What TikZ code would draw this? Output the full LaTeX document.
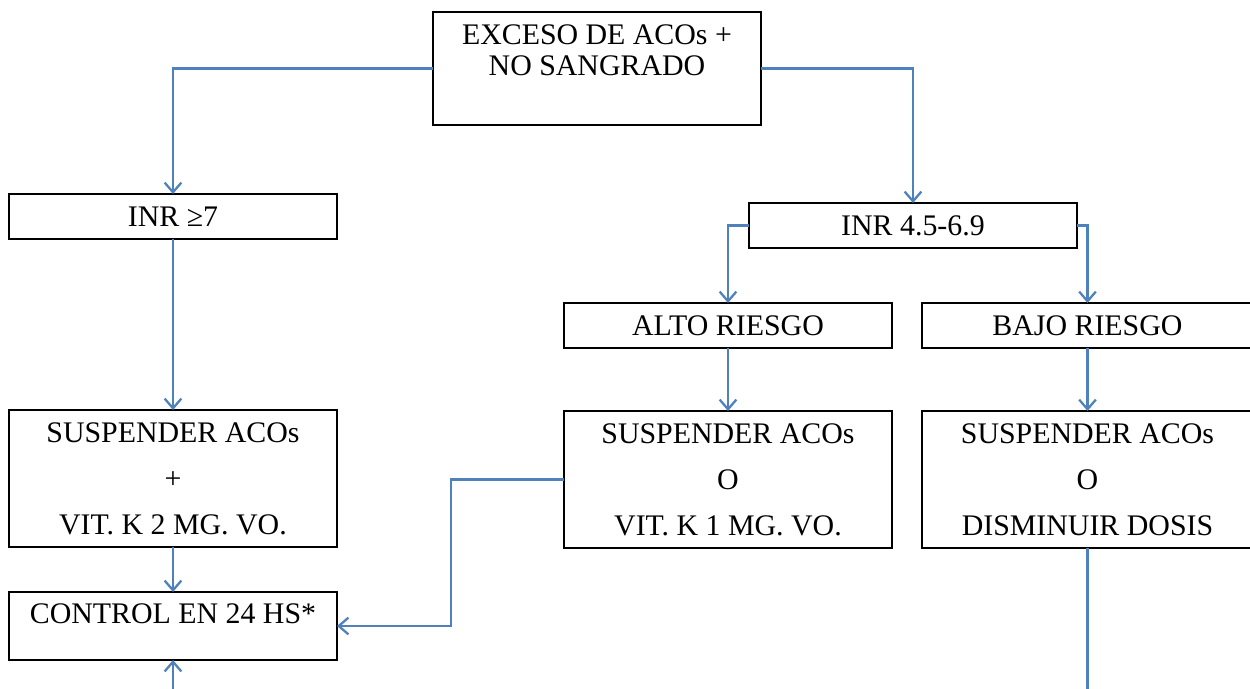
\documentclass[tikz,border=0pt]{standalone}
\usepackage{fontspec}
\setmainfont{Liberation Serif}
\usepackage{tikz}
\usetikzlibrary{arrows, arrows.meta, positioning}
\definecolor{flowblue}{RGB}{79,129,189}
\tikzset{
  caja/.style={draw, line width=1.1pt, minimum width=6.56cm, inner sep=0pt,
               outer sep=0pt, font=\fontsize{17}{20}\selectfont, align=center},
  arrow/.style={-{Straight Barb[length=5.5pt, width=9.5pt]}, line width=1.3pt, draw=flowblue},
  line/.style={line width=1.3pt, draw=flowblue},
}

\begin{document}
\begin{tikzpicture}

  \useasboundingbox (-11.94,-12.39) rectangle (13.06,1.37);
  \clip (-11.94,-12.39) rectangle (13.06,1.37);

  \node[caja, line width=1.5pt, minimum height=2.26cm]
    (exceso) at (0,0) {\strut EXCESO DE ACOs +\\[-2.4pt]\strut NO SANGRADO\\[-2.4pt]\strut};

  \node[caja, minimum height=0.9cm, below=1.38cm of exceso, xshift=-8.48cm]
    (inr7) {INR ≥7};
  \node[caja, minimum height=0.9cm, below=1.56cm of exceso, xshift=6.32cm]
    (inr45) {INR 4.5-6.9};

  \node[caja, minimum height=0.9cm, below=1.1cm of inr45, xshift=-3.7cm]
    (alto) {ALTO RIESGO};
  \node[caja, minimum height=0.9cm, minimum width=6.62cm, right=0.6cm of alto]
    (bajo) {BAJO RIESGO};

  \node[caja, minimum height=2.74cm, below=3.42cm of inr7]
    (susp1) {SUSPENDER ACOs\\[6.2pt]+\\[6.2pt]VIT. K 2 MG. VO.};
  \node[caja, minimum height=2.74cm, below=1.26cm of alto]
    (susp2) {SUSPENDER ACOs\\[6.2pt]O\\[6.2pt]VIT. K 1 MG. VO.};
  \node[caja, minimum height=2.74cm, minimum width=6.62cm, below=1.26cm of bajo]
    (susp3) {SUSPENDER ACOs\\[6.2pt]O\\[6.2pt]DISMINUIR DOSIS};

  \node[caja, minimum height=1.36cm, below=0.9cm of susp1]
    (control) {\strut CONTROL EN 24 HS*\\[-9.6pt]\strut};

  \coordinate[below=1cm of control] (ctrlin);
  \coordinate[below=3cm of susp3] (dosisout);

  % --- Flujo ---
  \draw[arrow] (exceso.west) -| (inr7.north);
  \draw[arrow] (exceso.east) -| (inr45.north);
  \draw[arrow] (inr45.west) -| (alto.north);
  \draw[arrow] (inr45.east) -| (bajo.north);
  \draw[arrow] (inr7) -- (susp1);
  \draw[arrow] (alto) -- (susp2);
  \draw[arrow] (bajo) -- (susp3);
  \draw[arrow] (susp1) -- (control);
  \draw[arrow] (susp2.west) -- ++(-2.26cm,0) |- (control.east);
  \draw[arrow] (ctrlin) -- (control.south);
  \draw[line] (susp3.south) -- (dosisout);

\end{tikzpicture}
\end{document}
